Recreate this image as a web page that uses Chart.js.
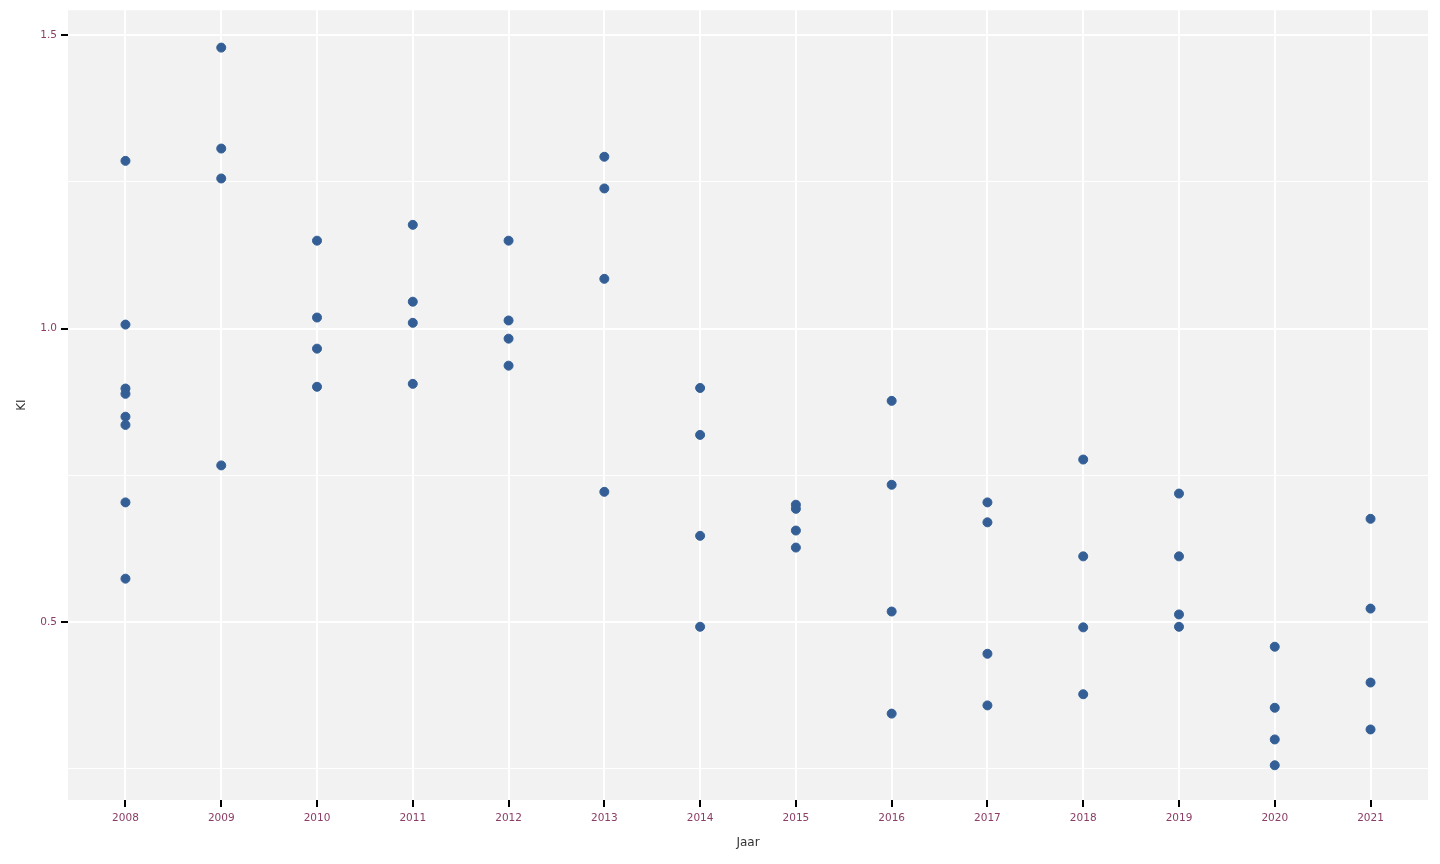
<!DOCTYPE html>
<html>
<head>
<meta charset="utf-8">
<script src="https://cdn.jsdelivr.net/npm/chart.js@4"></script>
<style>
  html, body { margin: 0; padding: 0; background: #ffffff; }
  #wrap { width: 1440px; height: 864px; position: relative; }
</style>
</head>
<body>
<div id="wrap"><canvas id="kiChart"></canvas></div>
<script>
// Years on the x axis
const jaren = [2008, 2009, 2010, 2011, 2012, 2013, 2014, 2015, 2016, 2017, 2018, 2019, 2020, 2021];

// KI values per year
const ki2008 = [1.286, 1.007, 0.898, 0.889, 0.850, 0.836, 0.704, 0.574];
const ki2009 = [1.479, 1.307, 1.256, 0.767];
const ki2010 = [1.150, 1.019, 0.966, 0.901];
const ki2011 = [1.177, 1.046, 1.010, 0.906];
const ki2012 = [1.150, 1.014, 0.983, 0.937];
const ki2013 = [1.293, 1.239, 1.085, 0.722];
const ki2014 = [0.899, 0.819, 0.647, 0.492];
const ki2015 = [0.700, 0.693, 0.656, 0.627];
const ki2016 = [0.877, 0.734, 0.518, 0.344];
const ki2017 = [0.704, 0.670, 0.446, 0.358];
const ki2018 = [0.777, 0.612, 0.491, 0.377];
const ki2019 = [0.719, 0.612, 0.513, 0.492];
const ki2020 = [0.458, 0.354, 0.300, 0.256];
const ki2021 = [0.676, 0.523, 0.397, 0.317];

const kiPerJaar = [ki2008, ki2009, ki2010, ki2011, ki2012, ki2013, ki2014,
                   ki2015, ki2016, ki2017, ki2018, ki2019, ki2020, ki2021];

// y gridlines: majors get a label, minors only a thin line
const yMajor = [0.5, 1.0, 1.5];
const yMinor = [0.25, 0.75, 1.25];

const colors = {
    point: '#345f96',
    panel: '#f2f2f2',
    grid: '#ffffff',
    tickText: '#8b3d66',
    title: '#333333'
};

const punten = [];
jaren.forEach((jaar, i) => {
    kiPerJaar[i].forEach(v => punten.push({ x: jaar, y: v }));
});

// grey ggplot-style panel behind the grid
const panelBg = {
    id: 'panelBg',
    beforeDraw(chart) {
        const { ctx, chartArea: a } = chart;
        ctx.save();
        ctx.fillStyle = colors.panel;
        ctx.fillRect(a.left, a.top, a.right - a.left, a.bottom - a.top);
        ctx.restore();
    }
};

const fontFamily = '"DejaVu Sans", sans-serif';

new Chart(document.getElementById('kiChart'), {
    type: 'scatter',
    data: {
        datasets: [{
            label: 'KI',
            data: punten,
            backgroundColor: colors.point,
            borderColor: colors.point,
            borderWidth: 1,
            pointRadius: 4.5,
            pointHoverRadius: 4.5
        }]
    },
    options: {
        responsive: true,
        maintainAspectRatio: false,
        animation: false,
        layout: { padding: { top: 10, right: 12, left: 0, bottom: 0 } },
        plugins: {
            legend: { display: false },
            tooltip: { enabled: false }
        },
        scales: {
            x: {
                type: 'linear',
                min: 2007.4,
                max: 2021.6,
                afterBuildTicks: scale => {
                    scale.ticks = jaren.map(j => ({ value: j }));
                },
                afterFit: scale => { scale.height = 64; },
                border: { display: false },
                grid: {
                    color: colors.grid,
                    lineWidth: 2,
                    tickColor: '#000000',
                    tickLength: 7,
                    tickWidth: 2
                },
                ticks: {
                    color: colors.tickText,
                    font: { family: fontFamily, size: 10.5 },
                    padding: 5,
                    maxRotation: 0,
                    autoSkip: false,
                    callback: v => String(v)
                },
                title: {
                    display: true,
                    text: 'Jaar',
                    color: colors.title,
                    font: { family: fontFamily, size: 12 },
                    padding: { top: 6, bottom: 14 }
                }
            },
            y: {
                type: 'linear',
                min: 0.1968,
                max: 1.5426,
                afterBuildTicks: scale => {
                    scale.ticks = yMinor.concat(yMajor).sort((a, b) => a - b).map(v => ({ value: v }));
                },
                afterFit: scale => { scale.width = 68; },
                border: { display: false },
                grid: {
                    color: colors.grid,
                    lineWidth: ctx => yMajor.includes(ctx.tick.value) ? 2 : 1,
                    tickColor: ctx => yMajor.includes(ctx.tick.value) ? '#000000' : 'rgba(0,0,0,0)',
                    tickLength: 7,
                    tickWidth: 2
                },
                ticks: {
                    color: colors.tickText,
                    font: { family: fontFamily, size: 10.5 },
                    padding: 4,
                    autoSkip: false,
                    callback: v => yMajor.includes(v) ? v.toFixed(1) : ''
                },
                title: {
                    display: true,
                    text: 'KI',
                    color: colors.title,
                    font: { family: fontFamily, size: 12 },
                    padding: { top: 15, bottom: 0 }
                }
            }
        }
    },
    plugins: [panelBg]
});
</script>
</body>
</html>
